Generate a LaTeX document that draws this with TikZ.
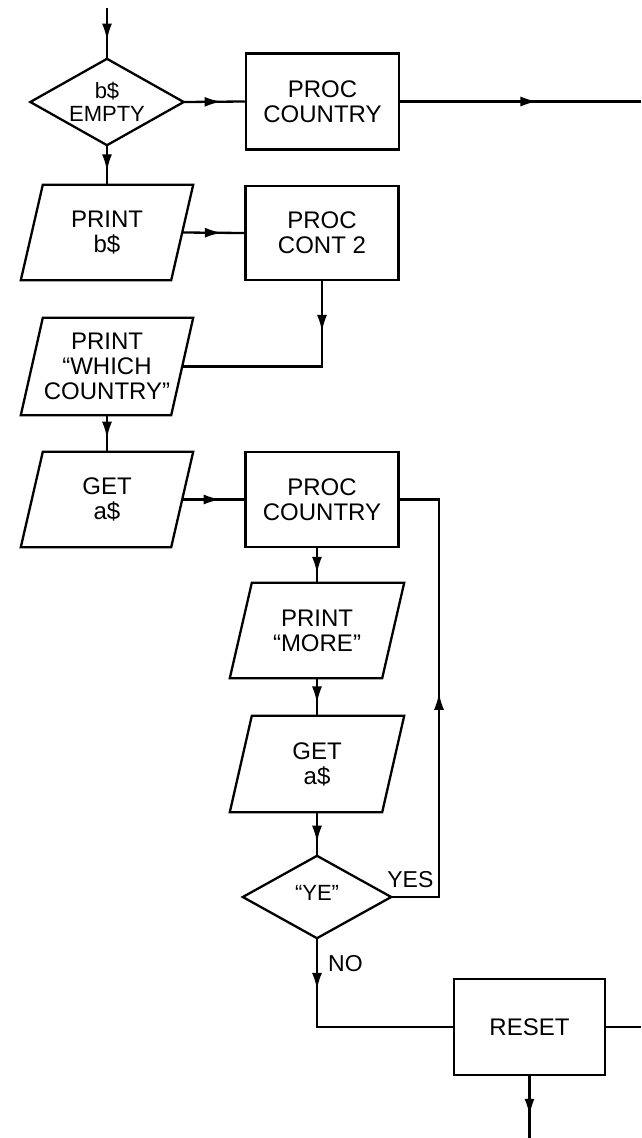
\documentclass[tikz,border=0pt]{standalone}
\usepackage{fontspec}
\setmainfont{Liberation Sans}
\usetikzlibrary{arrows.meta,decorations.markings}

\tikzset{
  line/.style={line width=2.3pt, line join=miter},
  txt/.style={inner sep=0pt, align=center, font=\fontsize{24}{25}\selectfont},
  proc/.style={txt, draw, line width=2.5pt, minimum width=153pt, minimum height=96pt},
  iobox/.style={txt, minimum width=150pt, minimum height=95pt},
  decide/.style={txt, font=\fontsize{22}{22.5}\selectfont},
  lbl/.style={inner sep=0pt, font=\fontsize{23}{24}\selectfont},
  flow/.style={line, postaction={decorate, decoration={markings,
      mark=at position #1 with {\arrow{Latex[length=17pt,width=10pt]}}}}},
}

\begin{document}
\begin{tikzpicture}[x=1pt, y=-1pt]
  \useasboundingbox (0,0) rectangle (641,1138);

  % decisions (outline drawn below from the anchors)
  \node[decide, minimum width=153pt, minimum height=86pt] (d1) at (107,102) {b\$\\EMPTY};
  \node[decide, minimum width=148pt, minimum height=82pt] (d2) at (317,897) {\raisebox{9pt}{“YE”}};

  % process boxes
  \node[proc] (b1) at (322.5,101.5) {PROC\\COUNTRY};
  \node[proc, minimum height=94pt] (b2) at (322,233) {PROC\\CONT 2};
  \node[proc, minimum height=95pt] (b3) at (322,499.5) {PROC\\COUNTRY};
  \node[proc, minimum width=151pt] (reset) at (529.5,1027) {RESET};

  % input / output boxes (parallelogram drawn below)
  \node[iobox] (p2) at (107,232.5) {PRINT\\b\$};
  \node[iobox, minimum height=97pt] (p3) at (107,366.5) {PRINT\\“WHICH\\COUNTRY”};
  \node[iobox] (p4) at (107,499.5) {GET\\a\$};
  \node[iobox, minimum width=152pt] (p5) at (317,630.5) {PRINT\\“MORE”};
  \node[iobox, minimum width=152pt, minimum height=96pt] (p6) at (317,764) {GET\\a\$};

  \foreach \d in {d1,d2}
    \draw[line] (\d.north) -- (\d.east) -- (\d.south) -- (\d.west) -- cycle;
  \foreach \p in {p2,p3,p4,p5,p6}
    \draw[line] ([xshift=11pt]\p.north west) -- ([xshift=11pt]\p.north east)
      -- ([xshift=-11pt]\p.south east) -- ([xshift=-11pt]\p.south west) -- cycle;

  % branch labels
  \node[lbl, anchor=south west] (yes) at ([xshift=-4pt,yshift=9pt]d2.east) {YES};
  \node[lbl, anchor=west] (no) at ([xshift=11pt,yshift=-25pt]d2.south) {NO};

  % free ends
  \coordinate (in) at (107,8);
  \coordinate (out1) at (641,101.5);
  \coordinate (loop) at (439,897);
  \coordinate (out2) at (641,1027);
  \coordinate (out3) at (529.5,1138);

  % connectors
  \draw[flow=0.64] (in) -- (d1.north);
  \draw[flow=0.62] (d1.east) -- (b1.west);
  \draw[flow=0.57] (b1.east) -- (out1);
  \draw[flow=0.66] (d1.south) -- (p2.north);
  \draw[flow=0.64] (p2.east) -- (b2.west);
  \draw[flow=0.225] (b2.south) |- (p3.east);
  \draw[flow=0.64] (p3.south) -- (p4.north);
  \draw[flow=0.62] (p4.east) -- (b3.west);
  \draw[flow=0.74] (p5.north |- b3.south) -- (p5.north);
  \draw[flow=0.67] (p5.south) -- (p6.north);
  \draw[flow=0.7] (p6.south) -- (d2.north);
  \draw[flow=0.52] (d2.east) -- (loop) |- (b3.east);
  \draw[flow=0.23] (d2.south) |- (reset.west);
  \draw[line] (reset.east) -- (out2);
  \draw[flow=0.64] (reset.south) -- (out3);
\end{tikzpicture}
\end{document}
